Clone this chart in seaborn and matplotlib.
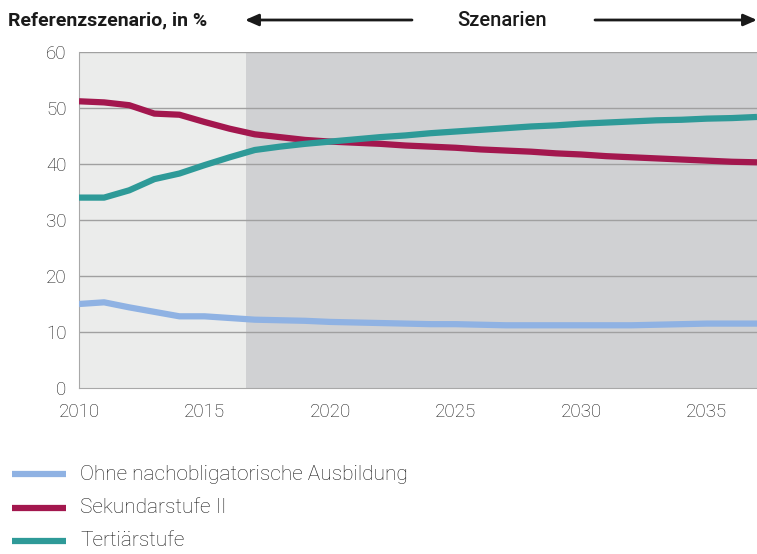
import matplotlib
matplotlib.use("Agg")
import matplotlib.pyplot as plt
import seaborn as sns
import pandas as pd
from matplotlib.patches import FancyArrowPatch
from matplotlib.lines import Line2D

years = list(range(2010, 2038))

ohne = [15.0, 15.3, 14.4, 13.6, 12.8, 12.8, 12.5, 12.2, 12.1, 12.0, 11.8, 11.7, 11.6, 11.5,
        11.4, 11.4, 11.3, 11.2, 11.2, 11.2, 11.2, 11.2, 11.2, 11.3, 11.4, 11.5, 11.5, 11.5]
sekundar = [51.2, 51.0, 50.5, 49.0, 48.8, 47.5, 46.3, 45.3, 44.8, 44.3, 44.0, 43.8, 43.6, 43.3,
            43.1, 42.9, 42.6, 42.4, 42.2, 41.9, 41.7, 41.4, 41.2, 41.0, 40.8, 40.6, 40.4, 40.3]
tertiaer = [34.0, 34.0, 35.3, 37.3, 38.3, 39.8, 41.2, 42.5, 43.1, 43.6, 44.0, 44.4, 44.8, 45.1,
            45.5, 45.8, 46.1, 46.4, 46.7, 46.9, 47.2, 47.4, 47.6, 47.8, 47.9, 48.1, 48.2, 48.4]

series_names = ["Ohne nachobligatorische Ausbildung", "Sekundarstufe II", "Tertiärstufe"]
colors = ["#8fb2e3", "#a3174e", "#2e9a98"]

df = pd.DataFrame({
    "Jahr": years * 3,
    "Wert": ohne + sekundar + tertiaer,
    "Stufe": [series_names[0]] * len(years) + [series_names[1]] * len(years) + [series_names[2]] * len(years),
})

sns.set_style("white")
plt.rcParams["font.family"] = ["Roboto", "DejaVu Sans"]

fig = plt.figure(figsize=(7.57, 5.54), dpi=100)
ax = fig.add_axes([79 / 757, 1 - 388 / 554, 1 - 79 / 757, (388 - 52) / 554])

ax.axvspan(2010, 2016.67, color="#ebeceb", zorder=0, lw=0)
ax.axvspan(2016.67, 2037, color="#d0d1d3", zorder=0, lw=0)

sns.lineplot(data=df, x="Jahr", y="Wert", hue="Stufe", palette=colors, linewidth=4.5,
             ax=ax, legend=False, zorder=3, solid_capstyle="butt")

ax.set_xlim(2010, 2037)
ax.set_ylim(0, 60)
ax.set_xticks(range(2010, 2040, 5))
ax.set_yticks(range(0, 70, 10))
ax.set_xlabel("")
ax.set_ylabel("")
for y in range(10, 70, 10):
    ax.axhline(y, color="#a0a0a0", lw=1, zorder=1)
for s in ["top", "right"]:
    ax.spines[s].set_visible(False)
ax.spines["left"].set_color("#a8a8a8")
ax.spines["bottom"].set_color("#a8a8a8")
ax.tick_params(axis="both", colors="#a8a8a8", length=5, width=1, labelcolor="#1a1a1a",
               labelsize=13.5)
ax.tick_params(axis="x", pad=6)
ax.tick_params(axis="y", pad=4)
for lab in ax.get_xticklabels() + ax.get_yticklabels():
    lab.set_fontweight("light")

# header
fig.text(8 / 757, 1 - 20 / 554, "Referenzszenario, in %", fontsize=14, fontweight="bold",
         color="#1a1a1a", va="center", ha="left")
fig.text(502 / 757, 1 - 20 / 554, "Szenarien", fontsize=14.5, fontweight="medium",
         color="#1a1a1a", va="center", ha="center")
for x0, x1 in [(412, 245), (595, 757)]:
    fig.add_artist(FancyArrowPatch((x0 / 757, 1 - 20 / 554), (x1 / 757, 1 - 20 / 554),
                                   transform=fig.transFigure,
                                   arrowstyle="-|>,head_length=8,head_width=3.5",
                                   color="#1a1a1a", lw=2, mutation_scale=1,
                                   shrinkA=0, shrinkB=0))

# legend
for i, (name, c) in enumerate(zip(series_names, colors)):
    yy = 1 - (474 + i * 33.5) / 554
    fig.add_artist(Line2D([12 / 757, 66 / 757], [yy, yy], color=c, lw=4.5,
                          solid_capstyle="butt", transform=fig.transFigure))
    fig.text(80 / 757, yy, name, fontsize=15, fontweight="light", color="#1a1a1a",
             va="center", ha="left")

fig.savefig("out.png", dpi=100)
